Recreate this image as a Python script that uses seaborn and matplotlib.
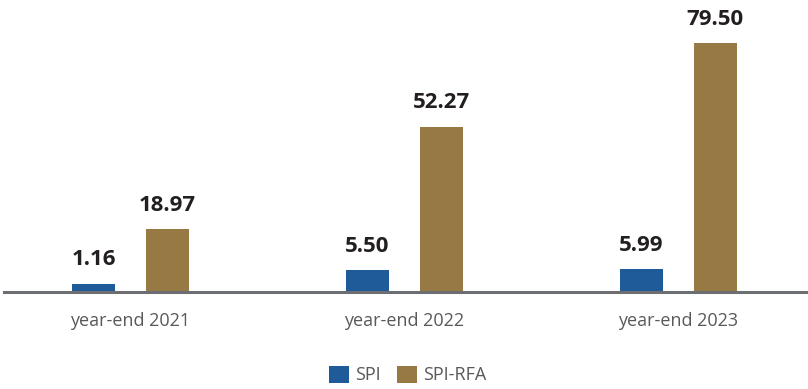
import matplotlib
matplotlib.use("Agg")
import matplotlib.pyplot as plt
import seaborn as sns
import pandas as pd

# Year-end figures for the two indicators
periods = ["year-end 2021", "year-end 2022", "year-end 2023"]
spi = [1.16, 5.50, 5.99]
spi_rfa = [18.97, 52.27, 79.50]
series_names = ["SPI", "SPI-RFA"]
series_colors = ["#1f5b98", "#977944"]

df = pd.DataFrame({
    "period": periods * 2,
    "value": spi + spi_rfa,
    "series": [series_names[0]] * len(periods) + [series_names[1]] * len(periods),
})

sns.set_theme(style="white")
plt.rcParams["font.family"] = ["Open Sans", "DejaVu Sans"]

fig = plt.figure(figsize=(8.08, 3.89), dpi=100)
ax = fig.add_axes([0.005, 0.2506, 0.995, 0.7494])

sns.barplot(
    data=df, x="period", y="value", hue="series", order=periods,
    hue_order=series_names, palette=series_colors,
    width=0.54, gap=0.42, saturation=1, errorbar=None, linewidth=0, ax=ax,
)

# the value axis floor sits slightly below zero; bars rise from the floor
y_floor, y_top = -1.44, 93.5
ax.set_ylim(y_floor, y_top)
for container in ax.containers:
    for bar, val in zip(container, container.datavalues):
        bar.set_y(y_floor)
        bar.set_height(val - y_floor)
    ax.bar_label(container, labels=[f"{v:.2f}" for v in container.datavalues],
                 padding=9.5, fontsize=16, fontweight="bold", color="#231f20")

ax.set_xlim(-0.4617, 2.473)
ax.set_xlabel("")
ax.set_ylabel("")
ax.set_yticks([])
ax.tick_params(axis="x", length=0, pad=15, labelsize=13, labelcolor="#58595b")

for side in ["left", "right", "top"]:
    ax.spines[side].set_visible(False)
ax.spines["bottom"].set_color("#6d6e71")
ax.spines["bottom"].set_linewidth(2.2)
ax.spines["bottom"].set_zorder(5)

handles, labels = ax.get_legend_handles_labels()
for h in handles:
    h.set_linewidth(0)
ax.legend(
    handles, labels, loc="center", bbox_to_anchor=(408 / 808, 1 - 375 / 389),
    bbox_transform=fig.transFigure, ncol=2, frameon=False, fontsize=13,
    labelcolor="#58595b", handlelength=1.1, handleheight=1.1,
    handletextpad=0.35, columnspacing=0.9,
)

fig.savefig("out.png", dpi=100)
